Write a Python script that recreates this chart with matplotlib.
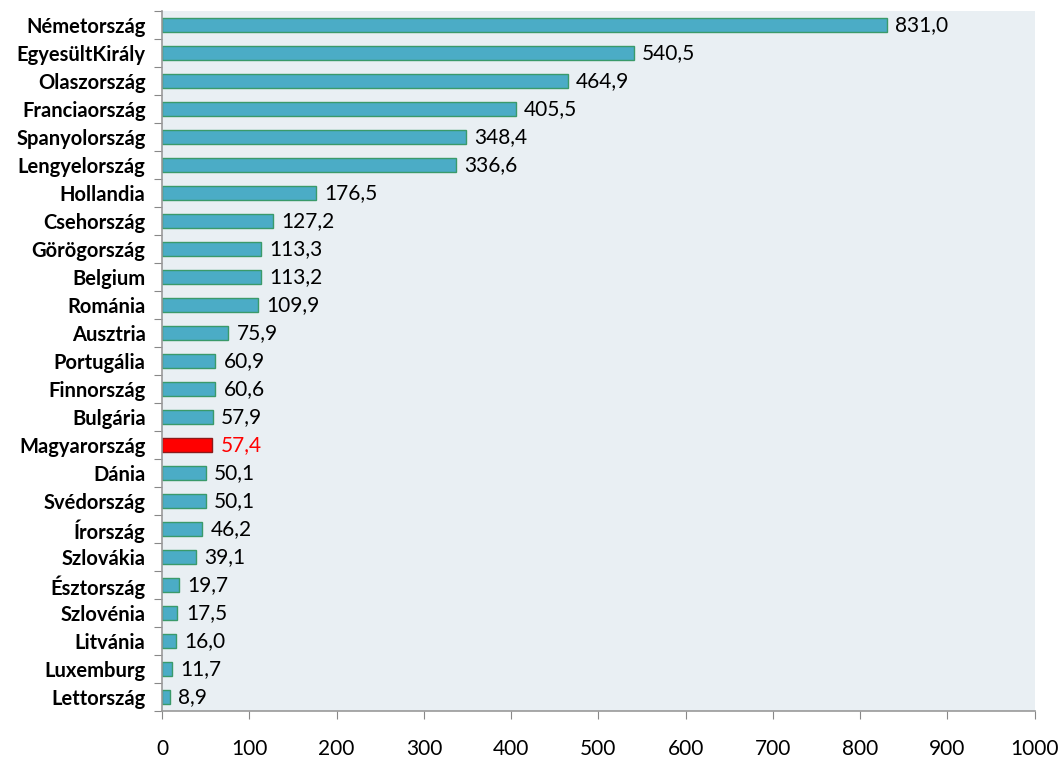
import matplotlib.pyplot as plt
import numpy as np

countries = ['Németország', 'EgyesültKirály', 'Olaszország', 'Franciaország',
             'Spanyolország', 'Lengyelország', 'Hollandia', 'Csehország',
             'Görögország', 'Belgium', 'Románia', 'Ausztria', 'Portugália',
             'Finnország', 'Bulgária', 'Magyarország', 'Dánia', 'Svédország',
             'Írország', 'Szlovákia', 'Észtország', 'Szlovénia', 'Litvánia',
             'Luxemburg', 'Lettország']
values = [831.0, 540.5, 464.9, 405.5, 348.4, 336.6, 176.5, 127.2, 113.3, 113.2,
          109.9, 75.9, 60.9, 60.6, 57.9, 57.4, 50.1, 50.1, 46.2, 39.1, 19.7,
          17.5, 16.0, 11.7, 8.9]
highlight = 'Magyarország'
xticks = [0, 100, 200, 300, 400, 500, 600, 700, 800, 900, 1000]

plt.rcParams['font.family'] = ['Lato', 'DejaVu Sans']

fig = plt.figure(figsize=(10.6, 7.57), dpi=100)
ax = fig.add_axes([0.153, 0.061, 0.823, 0.9245])
ax.set_facecolor('#E9EFF3')

y = np.arange(len(countries))
colors = ['#FF0000' if c == highlight else '#4BACC6' for c in countries]
edges = ['#8B1A1A' if c == highlight else '#3A9A6A' for c in countries]
ax.barh(y, values, height=0.48, color=colors, edgecolor=edges, linewidth=1)

# value labels, Hungarian decimal comma
for yi, v, c in zip(y, values, countries):
    col = 'red' if c == highlight else 'black'
    ax.annotate(f'{v:.1f}'.replace('.', ','), (v, yi), xytext=(6, 0),
                textcoords='offset points', va='center', ha='left',
                fontsize=15, color=col)

ax.set_xlim(0, 1000)
ax.set_ylim(len(countries) - 0.5, -0.5)
ax.set_xticks(xticks)
ax.set_xticklabels([str(t) for t in xticks], fontsize=15)
ax.tick_params(axis='x', length=6, color='#888888', pad=14)

ax.set_yticks(np.arange(len(countries) + 1) - 0.5)
ax.set_yticklabels([])
ax.set_yticks(y, minor=True)
ax.set_yticklabels(countries, minor=True, fontsize=14.5, fontweight='bold')
ax.tick_params(axis='y', which='major', length=6, color='#888888')
ax.tick_params(axis='y', which='minor', length=0, pad=12)

for s in ['top', 'right']:
    ax.spines[s].set_visible(False)
for s in ['left', 'bottom']:
    ax.spines[s].set_color('#999999')
    ax.spines[s].set_linewidth(1.2)

fig.savefig('out.png', dpi=100)
